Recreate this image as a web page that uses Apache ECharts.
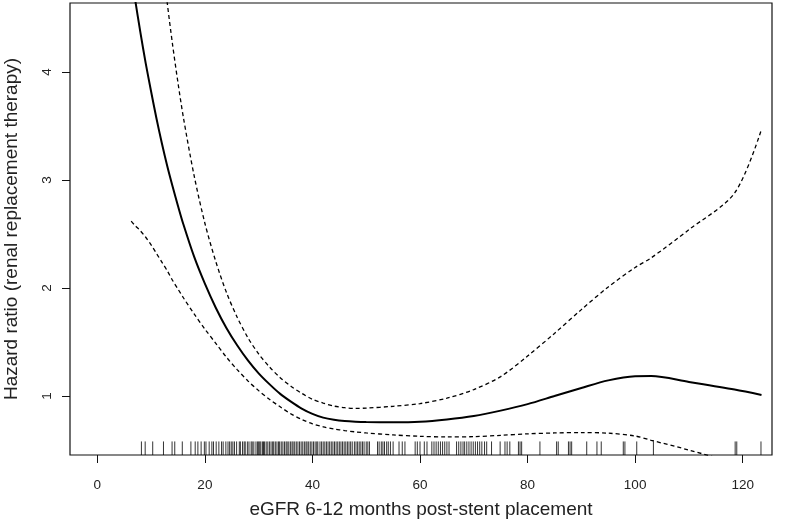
<!DOCTYPE html>
<html><head><meta charset="utf-8">
<script src="https://cdn.jsdelivr.net/npm/echarts@6/dist/echarts.min.js"></script>
<style>html,body{margin:0;padding:0;background:#fff}#c{width:800px;height:520px}</style>
</head><body><div id="c"></div>
<script>
const eGFR        = [6.3, 7, 8, 9, 10, 11, 12, 13, 14, 15, 16, 18, 20, 22, 24, 26, 28, 30, 32, 34, 36, 38, 40, 42, 44, 46, 48, 50, 55, 60, 65, 70, 75, 80, 85, 90, 95, 100, 103, 110, 118.5, 123.5];
const hazardRatio = [4.91, 4.68, 4.37, 4.08, 3.82, 3.57, 3.34, 3.13, 2.94, 2.76, 2.59, 2.29, 2.04, 1.82, 1.63, 1.47, 1.33, 1.21, 1.11, 1.02, 0.948, 0.884, 0.835, 0.80, 0.78, 0.768, 0.762, 0.759, 0.757, 0.762, 0.783, 0.815, 0.865, 0.925, 1.00, 1.075, 1.145, 1.183, 1.185, 1.13, 1.06, 1.01];
const lowerCI     = [2.62, 2.58, 2.53, 2.47, 2.40, 2.32, 2.24, 2.16, 2.07, 1.99, 1.91, 1.76, 1.62, 1.49, 1.36, 1.245, 1.14, 1.05, 0.97, 0.90, 0.835, 0.783, 0.743, 0.715, 0.695, 0.68, 0.668, 0.658, 0.64, 0.627, 0.621, 0.624, 0.636, 0.65, 0.658, 0.662, 0.656, 0.63, 0.59, 0.50, 0.38, 0.31];
const upperCI     = [8.66, 8.09, 7.36, 6.69, 6.09, 5.56, 5.07, 4.64, 4.25, 3.90, 3.58, 3.04, 2.60, 2.25, 1.96, 1.73, 1.54, 1.39, 1.27, 1.17, 1.09, 1.025, 0.97, 0.935, 0.907, 0.892, 0.886, 0.888, 0.905, 0.93, 0.98, 1.06, 1.18, 1.37, 1.58, 1.80, 2.01, 2.19, 2.28, 2.54, 2.88, 3.47];
const rugValues = [
  8.2, 8.9, 10.3, 12.3, 13.9, 14.4, 15.8, 17.4, 18.2, 18.7, 19.3, 19.9, 20.2, 20.8, 21.3, 21.6, 22.1, 22.6, 23.1, 23.4, 23.9, 24.3, 24.6,
  24.9, 25.2, 25.5, 25.9, 26.4, 26.6, 27.0, 27.3, 27.5, 27.9, 28.2, 28.6, 28.8, 29.1, 29.5, 29.8, 30.0, 30.2, 30.4, 30.7, 30.9, 31.1, 31.4, 31.7,
  32.0, 32.3, 32.6, 32.8, 33.1, 33.4, 33.7, 33.9, 34.2, 34.5, 34.8, 35.1, 35.3, 35.6, 35.9, 36.2, 36.4, 36.7, 37.0, 37.3, 37.6, 37.9, 38.2, 38.5,
  38.8, 39.0, 39.3, 39.6, 39.9, 40.2, 40.5, 40.8, 41.0, 41.4, 41.7, 42.0, 42.3, 42.6, 42.9, 43.2,
  43.5, 43.8, 44.1, 44.4, 44.7, 45.0, 45.3, 45.6, 45.9, 46.2, 46.5, 46.8, 47.1, 47.4, 47.8, 48.1, 48.4, 48.7, 49.0, 49.3, 49.6, 50.0, 50.3, 50.6,
  52.1, 52.4, 52.8, 53.1, 53.4, 53.8, 54.1, 54.5, 55.0, 56.1, 56.7, 57.2, 59.1, 59.5, 60.0, 60.8, 61.3,
  62.2, 62.6, 63.0, 63.4, 63.8, 64.2, 64.6, 65.0, 65.4, 66.8, 67.2, 67.6, 68.0, 68.3, 68.7, 69.1, 69.5, 69.9, 70.3, 70.7, 71.1, 71.5, 72.0, 72.4,
  73.3, 74.9, 75.8, 76.2, 76.7, 78.3, 78.6, 78.9,
  82.3, 85.4, 85.7, 87.6, 87.9, 88.2, 91.0, 92.9, 93.7, 97.8, 98.1, 100.3, 103.4, 118.6, 118.9, 123.4
];
const xTicks = [0, 20, 40, 60, 80, 100, 120];
const yTicks = [1, 2, 3, 4];
const xRange = [-5.08, 125.45];
const yRange = [0.454, 4.639];

const font = '"Liberation Sans", Arial, sans-serif';
const chart = echarts.init(document.getElementById('c'), null, {renderer: 'canvas'});
const pairs = arr => eGFR.map((x, i) => [x, arr[i]]);

chart.setOption({
  animation: false,
  backgroundColor: '#fff',
  grid: {left: 70, right: 28, top: 3, bottom: 65, containLabel: false, outerBoundsMode: 'none',
         show: true, borderColor: '#111', borderWidth: 1.2, backgroundColor: 'transparent'},
  xAxis: {
    type: 'value', min: xRange[0], max: xRange[1],
    name: 'eGFR 6-12 months post-stent placement', nameLocation: 'middle', nameGap: 45,
    nameTextStyle: {fontFamily: font, fontSize: 19, color: '#222'},
    axisLine: {show: false, onZero: false},
    axisTick: {show: true, inside: false, length: 8, customValues: xTicks, lineStyle: {color: '#111', width: 1}},
    axisLabel: {customValues: xTicks, margin: 23, fontFamily: font, fontSize: 13.5, color: '#222'},
    splitLine: {show: false}
  },
  yAxis: {
    type: 'value', min: yRange[0], max: yRange[1],
    name: 'Hazard ratio (renal replacement therapy)', nameLocation: 'middle', nameGap: 49,
    nameTextStyle: {fontFamily: font, fontSize: 19, color: '#222'},
    axisLine: {show: false, onZero: false},
    axisTick: {show: true, inside: false, length: 8, customValues: yTicks, lineStyle: {color: '#111', width: 1}},
    axisLabel: {customValues: yTicks, rotate: 90, margin: 16, fontFamily: font, fontSize: 13.5, color: '#222'},
    splitLine: {show: false}
  },
  series: [
    {type: 'line', data: pairs(hazardRatio), showSymbol: false, smooth: 0.3, clip: true,
     lineStyle: {color: '#000', width: 2, type: 'solid'}},
    {type: 'line', data: pairs(lowerCI), showSymbol: false, smooth: 0.3, clip: true,
     lineStyle: {color: '#000', width: 1.3, type: [4, 3]}},
    {type: 'line', data: pairs(upperCI), showSymbol: false, smooth: 0.3, clip: true,
     lineStyle: {color: '#000', width: 1.3, type: [4, 3]}},
    {type: 'custom', silent: true, clip: false,
     data: rugValues.map(v => [v, yRange[0]]),
     encode: {x: 0, y: 1},
     renderItem: function (params, api) {
       const cs = params.coordSys;
       const x = api.coord([api.value(0), api.value(1)])[0];
       const yb = cs.y + cs.height;
       const len = cs.height * 0.03;
       return {type: 'line', shape: {x1: x, y1: yb, x2: x, y2: yb - len},
               style: {stroke: '#000', lineWidth: 1, opacity: 0.8}};
     }}
  ]
});
</script>
</body></html>
